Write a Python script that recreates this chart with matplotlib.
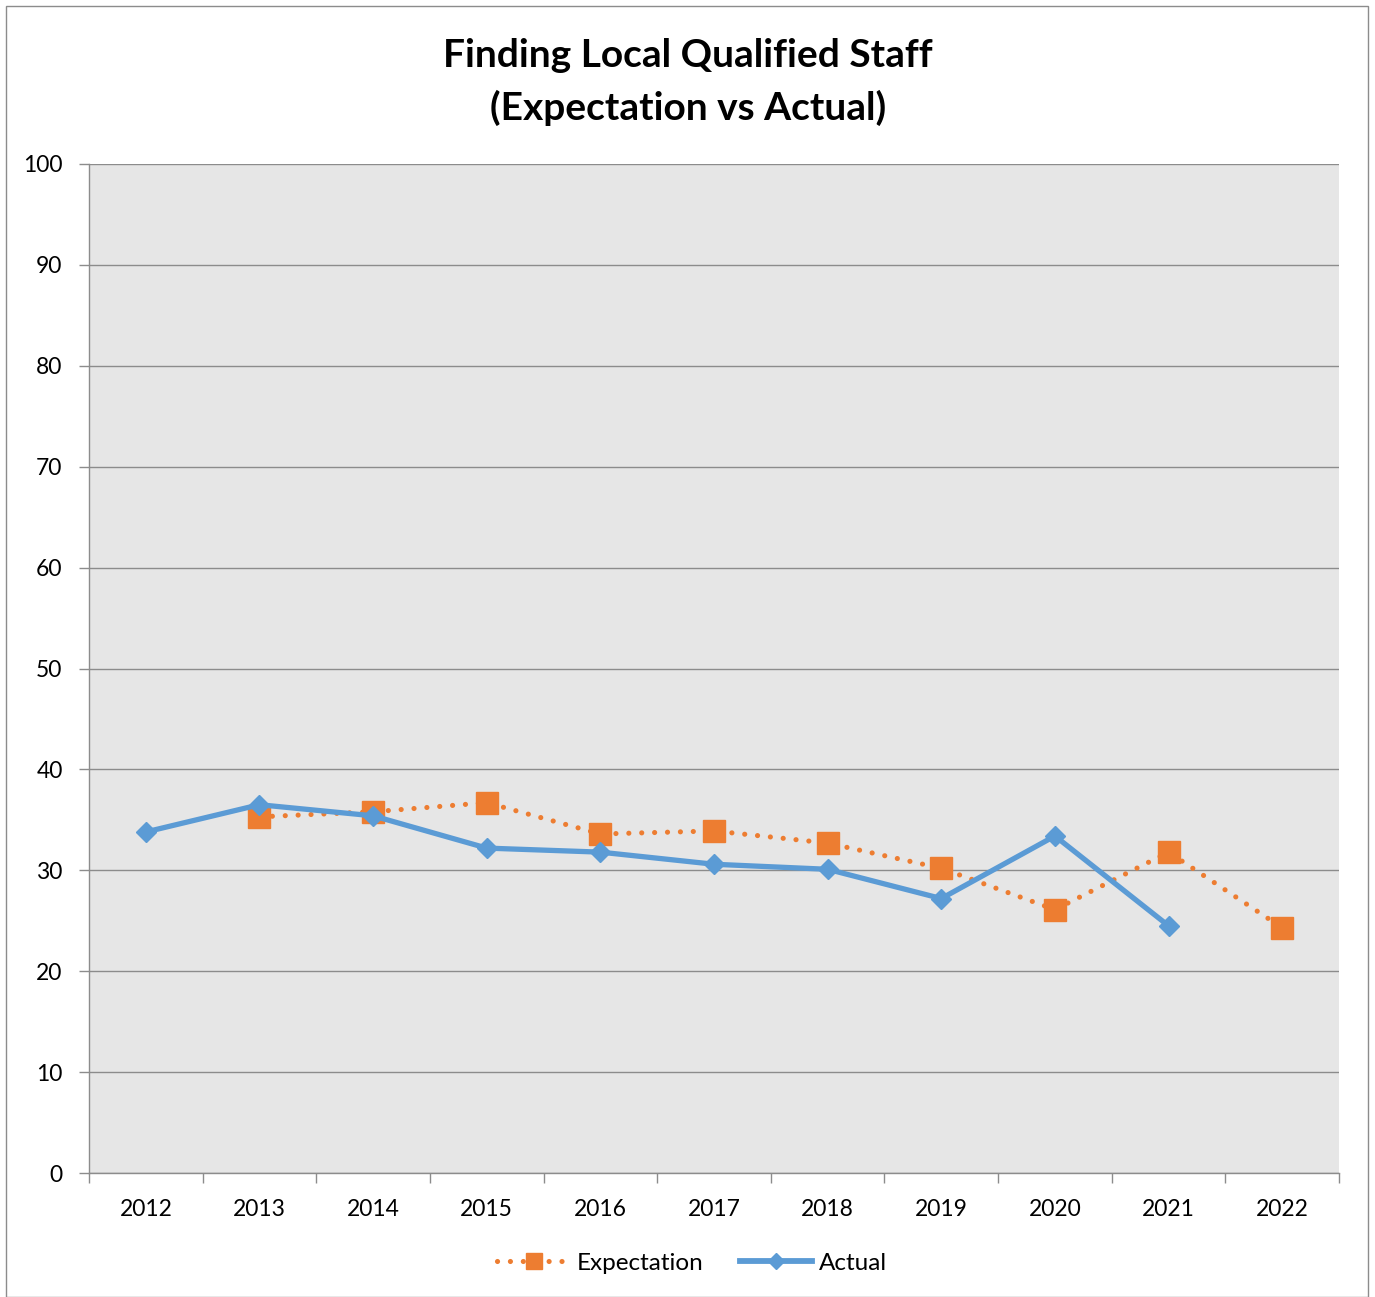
import matplotlib
matplotlib.use("Agg")
import matplotlib.pyplot as plt
from matplotlib.patches import Rectangle
from matplotlib.lines import Line2D

# Survey series: share of respondents reporting difficulty finding local qualified staff
years = ["2012", "2013", "2014", "2015", "2016", "2017", "2018", "2019", "2020", "2021", "2022"]
expectation = [None, 35.3, 35.8, 36.7, 33.6, 33.9, 32.7, 30.2, 26.1, 31.8, 24.3]
actual = [33.8, 36.5, 35.4, 32.2, 31.8, 30.6, 30.1, 27.2, 33.4, 24.5, None]
y_ticks = [0, 10, 20, 30, 40, 50, 60, 70, 80, 90, 100]

ORANGE = "#ED7D31"
BLUE = "#5B9BD5"
GRID = "#8C8C8C"
DOTS = (0, (0.01, 2.5))

plt.rcParams["font.family"] = ["Lato", "DejaVu Sans"]

fig = plt.figure(figsize=(13.75, 12.97), dpi=100)
ax = fig.add_axes([89 / 1375, 1 - 1173 / 1297, 1250 / 1375, 1009 / 1297])
ax.set_facecolor("#E6E6E6")

x = list(range(len(years)))
ex_x = [i for i, v in zip(x, expectation) if v is not None]
ex_y = [v for v in expectation if v is not None]
ac_x = [i for i, v in zip(x, actual) if v is not None]
ac_y = [v for v in actual if v is not None]

ax.plot(ex_x, ex_y, color=ORANGE, lw=3.7, linestyle=DOTS,
        dash_capstyle="round", marker="s", ms=15.5, mec=ORANGE, mfc=ORANGE,
        label="Expectation", zorder=3)
ax.plot(ac_x, ac_y, color=BLUE, lw=3.8, marker="D", ms=10.5, mec=BLUE, mfc=BLUE,
        label="Actual", zorder=4)

ax.set_xlim(-0.5, len(years) - 0.5)
ax.set_ylim(0, 100)
ax.set_yticks(y_ticks)
ax.set_yticklabels([str(t) for t in y_ticks])
ax.yaxis.grid(True, color=GRID, lw=1.0)
ax.set_axisbelow(True)

# category labels centered, tick marks at category boundaries
ax.set_xticks(x)
ax.set_xticklabels(years)
ax.set_xticks([i - 0.5 for i in range(len(years) + 1)], minor=True)
ax.tick_params(axis="x", which="major", length=0, pad=19, labelsize=16.5)
ax.tick_params(axis="x", which="minor", length=7, width=1.0, color=GRID, direction="out")
ax.tick_params(axis="y", length=7, width=1.0, color=GRID, pad=12, labelsize=16.5)

for side in ("top", "right"):
    ax.spines[side].set_visible(False)
for side in ("left", "bottom"):
    ax.spines[side].set_color(GRID)
    ax.spines[side].set_linewidth(1.0)

fig.text(688 / 1375, 1 - 82 / 1297, "Finding Local Qualified Staff\n(Expectation vs Actual)",
         ha="center", va="center", fontsize=28, fontweight="bold", linespacing=1.55)

handles = [
    Line2D([0], [0], color=ORANGE, lw=3.7, linestyle=DOTS, dash_capstyle="round",
           marker="s", ms=12, mec=ORANGE, mfc=ORANGE),
    Line2D([0], [0], color=BLUE, lw=4.2, marker="D", ms=8.5, mec=BLUE, mfc=BLUE),
]
fig.legend(handles, ["Expectation", "Actual"], loc="center", bbox_to_anchor=(692 / 1375, 1 - 1263 / 1297),
           ncol=2, frameon=False, fontsize=17.5, handlelength=3.0, handletextpad=0.25, columnspacing=1.5)

fig.patches.append(Rectangle((6 / 1375, 0), 1362 / 1375, 1 - 6 / 1297, transform=fig.transFigure,
                             fill=False, edgecolor="#8C8C8C", lw=1.0))

fig.savefig("out.png", dpi=100)
